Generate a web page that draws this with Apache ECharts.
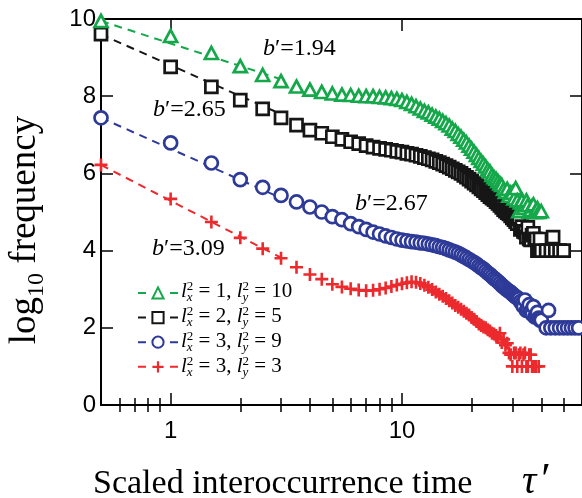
<!DOCTYPE html>
<html>
<head>
<meta charset="utf-8">
<script src="https://cdn.jsdelivr.net/npm/echarts@6/dist/echarts.min.js"></script>
<style>
  html, body { margin: 0; padding: 0; background: #fff; }
  #chart { width: 582px; height: 498px; }
</style>
</head>
<body>
<div id="chart"></div>
<script>
// Scaled interoccurrence times (bin centres, step 0.5) shared by the four curves
const tau = [0.5, 1, 1.5, 2, 2.5, 3, 3.5, 4, 4.5, 5, 5.5, 6, 6.5, 7, 7.5, 8, 8.5, 9, 9.5, 10,
  10.5, 11, 11.5, 12, 12.5, 13, 13.5, 14, 14.5, 15, 15.5, 16, 16.5, 17, 17.5, 18, 18.5, 19, 19.5, 20,
  20.5, 21, 21.5, 22, 22.5, 23, 23.5, 24, 24.5, 25, 25.5, 26, 26.5, 27, 27.5, 28, 28.5, 29, 29.5, 30,
  30.5, 31, 31.5, 32, 32.5, 33, 33.5, 34, 34.5, 35, 35.5, 36, 36.5, 37, 37.5, 38, 38.5, 39, 39.5, 40];

// log10 frequency for each curve (null = empty bin)
const freqA = [9.95, 9.56, 9.12, 8.78, 8.55, 8.39, 8.25, 8.17, 8.11, 8.07, 8.04, 8.03, 8.01, 8.0, 8.0, 7.98, 7.97, 7.95, 7.93, 7.9,
  7.85, 7.8, 7.74, 7.68, 7.62, 7.58, 7.52, 7.47, 7.42, 7.36, 7.3, 7.24, 7.16, 7.1, 7.02, 6.95, 6.87, 6.8, 6.72, 6.64,
  6.56, 6.48, 6.4, 6.32, 6.25, 6.18, 6.1, 6.05, 5.96, 5.9, 5.86, 5.8, 5.74, 5.7, 5.6, 5.52, 5.6, 5.42, 5.5, 5.5,
  5.35, 5.62, 5.3, 5.02, 5.25, 5.3, 5.1, 5.18, 5.3, 5.18, 5.0, 5.05, 5.15, 5.2, 5.0, 5.0, 5.1, 5.0, null, 5.02];
const freqB = [9.61, 8.76, 8.24, 7.9, 7.67, 7.44, 7.25, 7.12, 7.04, 6.95, 6.88, 6.82, 6.77, 6.72, 6.68, 6.65, 6.62, 6.6, 6.57, 6.55,
  6.52, 6.5, 6.47, 6.44, 6.41, 6.38, 6.35, 6.31, 6.28, 6.24, 6.2, 6.16, 6.12, 6.08, 6.04, 6.0, 5.95, 5.9, 5.85, 5.8,
  5.75, 5.7, 5.65, 5.6, 5.55, 5.5, 5.45, 5.4, 5.36, 5.32, 5.27, 5.22, 5.17, 5.12, 5.06, 5.02, 4.98, 4.95, 4.9, 4.85,
  4.8, 4.75, 4.7, 4.82, 4.55, 4.62, 4.5, 4.48, 4.35, 4.6, 4.3, 4.28, 4.4, 4.45, 4.3, 4.3, 4.0, 4.0, 4.3, 4.0];
const freqC = [7.44, 6.79, 6.27, 5.84, 5.64, 5.43, 5.26, 5.13, 5.0, 4.88, 4.8, 4.7, 4.62, 4.55, 4.48, 4.43, 4.38, 4.34, 4.3, 4.27,
  4.25, 4.23, 4.22, 4.2, 4.19, 4.17, 4.15, 4.13, 4.1, 4.08, 4.05, 4.02, 3.99, 3.96, 3.93, 3.89, 3.85, 3.81, 3.77, 3.73,
  3.69, 3.65, 3.6, 3.56, 3.52, 3.47, 3.42, 3.38, 3.33, 3.28, 3.24, 3.2, 3.15, 3.1, 3.06, 3.02, 2.98, 2.95, 2.92, 2.88,
  2.84, 2.8, 2.78, 2.75, 2.68, 2.62, 2.55, 2.72, 2.45, 2.5, 2.6, 2.42, 2.35, 2.55, 2.28, 2.3, 2.4, 2.25, 2.2, 2.2];
const freqD = [6.22, 5.34, 4.74, 4.33, 4.05, 3.8, 3.57, 3.38, 3.26, 3.13, 3.06, 3.01, 2.98, 2.96, 2.97, 3.0, 3.03, 3.07, 3.11, 3.14,
  3.17, 3.19, 3.18, 3.15, 3.1, 3.05, 2.99, 2.93, 2.87, 2.82, 2.76, 2.7, 2.64, 2.58, 2.53, 2.48, 2.43, 2.38, 2.33, 2.27,
  2.22, 2.16, 2.1, 2.06, 2.02, 2.0, 1.95, 1.92, 1.86, 1.84, 1.8, 1.75, 1.86, 1.62, 1.7, 1.55, 1.6, 1.35, 1.3, 1.0,
  1.35, 1.35, 1.0, 1.3, 1.35, 1.0, 1.3, 1.35, 1.0, 1.0, 1.3, 1.3, 1.0, 1.0, 1.0, 1.0, null, 1.0, null, null];

// long-time tails beyond tau' = 40
const tailTauB = [42, 44, 45, 46, 48, 50];
const tailB = [4.0, 4.0, 4.35, 4.0, 4.0, 4.0];
const tailTauC = [42, 43, 44, 46, 48, 50, 52, 54, 56, 58];
const tailC = [2.0, 2.45, 2.0, 2.0, 2.0, 2.0, 2.0, 2.0, 2.0, 2.0];

// power-law fits over the short-time range: slope b' and value at tau' = 0.5
const fitSlopes = [1.94, 2.65, 2.67, 3.09];
const fitStart = [9.95, 9.6, 7.44, 6.22];
const fitRange = [0.5, 3];

// legend parameters l_x^2, l_y^2
const lx2 = [1, 2, 3, 3];
const ly2 = [10, 5, 9, 3];

// axis ticks
const xMajorTicks = [1, 10];
const xMinorTicks = [0.6, 0.7, 0.8, 0.9, 2, 3, 4, 5, 6, 7, 8, 9, 20, 30, 40, 50];

const SERIF = '"Liberation Serif", "Times New Roman", serif';
const SANS = '"Liberation Sans", Arial, sans-serif';
const colors = ['#14a84a', '#161616', '#2d3a98', '#ec2a2e'];
const names = ['setA', 'setB', 'setC', 'setD'];

function pairs(xs, ys) {
  const out = [];
  xs.forEach((x, i) => { if (ys[i] !== null && ys[i] !== undefined) out.push([x, ys[i]]); });
  return out;
}
const seriesData = [
  pairs(tau, freqA),
  pairs(tau, freqB).concat(pairs(tailTauB, tailB)),
  pairs(tau, freqC).concat(pairs(tailTauC, tailC)),
  pairs(tau, freqD)
];

// text layout helpers (runs of differently styled text on one baseline)
const ctx2d = document.createElement('canvas').getContext('2d');
function fontStr(r) { return (r.italic ? 'italic ' : '') + r.size + 'px ' + (r.family || SERIF); }
function textWidth(t, r) { ctx2d.font = fontStr(r); return ctx2d.measureText(t).width; }
function piece(t, r, x, baseline) {
  return {
    type: 'text', x: x, y: baseline - 0.34 * r.size, silent: true,
    style: { text: t, font: fontStr(r), fill: '#000', align: 'left', verticalAlign: 'middle' }
  };
}
function runGroup(runs, x, y, o) {
  o = o || {};
  let cx = 0;
  const kids = [];
  runs.forEach(r => {
    if (r.gap) {
      cx += r.gap;
    } else if (r.stack) {
      const sup = { size: r.size }, sub = { size: r.size, italic: true };
      const w = Math.max(textWidth(r.stack[0], sup), textWidth(r.stack[1], sub));
      kids.push(piece(r.stack[0], sup, cx, r.supDy));
      kids.push(piece(r.stack[1], sub, cx, r.subDy));
      cx += w;
    } else {
      kids.push(piece(r.t, r, cx, r.dy || 0));
      cx += textWidth(r.t, r);
    }
  });
  if (o.center) kids.forEach(k => { k.x -= cx / 2; });
  return { type: 'group', x: x, y: y, rotation: o.rotation || 0, silent: true, children: kids };
}

const graphics = [];
// slope annotations
const slopePos = [[263, 57], [153, 118], [355, 212], [152, 257]];
fitSlopes.forEach((b, i) => {
  graphics.push(runGroup([
    { t: 'b', size: 24, italic: true },
    { t: '\u2032=' + b.toFixed(2), size: 24 }
  ], slopePos[i][0], slopePos[i][1]));
});
// legend labels
lx2.forEach((v, i) => {
  graphics.push(runGroup([
    { t: 'l', size: 21, italic: true },
    { stack: ['2', 'x'], size: 13, supDy: -8.5, subDy: 3 },
    { t: ' = ' + v + ', ', size: 21 },
    { t: 'l', size: 21, italic: true },
    { stack: ['2', 'y'], size: 13, supDy: -8.5, subDy: 3 },
    { t: ' = ' + ly2[i], size: 21 }
  ], 181, 299 + 25 * i));
});
// axis titles
graphics.push(runGroup([
  { t: 'log', size: 37 },
  { t: '10', size: 24, dy: 7 },
  { t: ' frequency', size: 37 }
], 38, 230, { center: true, rotation: Math.PI / 2 }));
graphics.push(runGroup([{ t: 'Scaled interoccurrence time', size: 34 }], 93, 496));
graphics.push(runGroup([
  { t: '\u03c4', size: 40, italic: true },
  { gap: 5 },
  { t: '\u2032', size: 44 }
], 522, 496));

const axisLine = { show: true, onZero: false, lineStyle: { color: '#000', width: 2 } };
const tickLine = { color: '#000', width: 1.5 };
function xAxisDef(position, ticks, len, labels, line) {
  return {
    type: 'log', logBase: 10, min: 0.5, max: 60, position: position,
    axisLine: line ? axisLine : { show: false },
    axisTick: { show: true, inside: true, length: len, customValues: ticks, lineStyle: tickLine },
    axisLabel: labels ? { show: true, customValues: ticks, fontSize: 24, fontFamily: SANS, color: '#000', margin: 14 } : { show: false },
    splitLine: { show: false }, minorTick: { show: false }
  };
}
function yAxisDef(position, labels) {
  return {
    type: 'value', min: 0, max: 10, interval: 2, position: position,
    axisLine: axisLine,
    axisTick: { show: true, inside: true, length: 12, lineStyle: tickLine },
    axisLabel: labels ? { show: true, fontSize: 24, fontFamily: SANS, color: '#000', margin: 5 } : { show: false },
    splitLine: { show: false }
  };
}

const symbols = ['triangle', 'rect', 'circle', 'path://M4,0H6V4H10V6H6V10H4V6H0V4H4Z'];
const symbolSizes = [[13, 12], 12, 13, 13];

const series = [];
fitSlopes.forEach((b, i) => {
  const y0 = fitStart[i];
  series.push({
    type: 'line', silent: true, symbol: 'none', z: 1, clip: false,
    data: fitRange.map(x => [x, y0 - b * Math.log10(x / fitRange[0])]),
    lineStyle: { color: colors[i], width: 2, type: [8, 6] }
  });
});
seriesData.forEach((d, i) => {
  const plus = i === 3;
  series.push({
    name: names[i], type: 'line', data: d, silent: true, clip: false,
    z: i === 0 ? 4 : 3,
    symbol: symbols[i], symbolSize: symbolSizes[i], showAllSymbol: true,
    lineStyle: { color: colors[i], width: 2, opacity: 0 },
    itemStyle: plus
      ? { color: colors[i], borderWidth: 0 }
      : { color: '#fff', borderColor: colors[i], borderWidth: 2.7 }
  });
});

const chart = echarts.init(document.getElementById('chart'), null, { renderer: 'canvas' });
chart.setOption({
  animation: false,
  backgroundColor: '#fff',
  grid: { left: 101, right: -2, top: 19, bottom: 93, containLabel: false },
  xAxis: [
    xAxisDef('bottom', xMajorTicks, 12, true, true),
    xAxisDef('bottom', xMinorTicks, 7, false, false),
    xAxisDef('top', xMajorTicks, 12, false, true),
    xAxisDef('top', xMinorTicks, 7, false, false)
  ],
  yAxis: [yAxisDef('left', true), yAxisDef('right', false)],
  legend: {
    orient: 'vertical', left: 137, top: 286, padding: 0,
    itemWidth: 40, itemHeight: 14, itemGap: 11,
    selectedMode: false, data: names,
    formatter: () => '',
    lineStyle: { width: 2, type: [8, 24], opacity: 1 }
  },
  series: series,
  graphic: { elements: graphics }
});
</script>
</body>
</html>
